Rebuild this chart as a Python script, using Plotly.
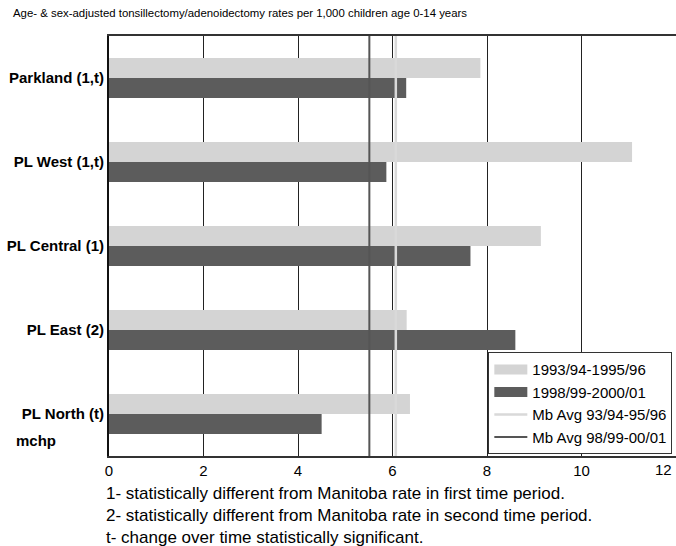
import plotly.graph_objects as go

categories = ["Parkland (1,t)", "PL West (1,t)", "PL Central (1)", "PL East (2)", "PL North (t)"]
rates_9396 = [7.86, 11.07, 9.14, 6.30, 6.37]
rates_9801 = [6.29, 5.87, 7.65, 8.60, 4.50]
mb_avg_9396 = 6.07
mb_avg_9801 = 5.51
series_names = ["1993/94-1995/96", "1998/99-2000/01", "Mb Avg 93/94-95/96", "Mb Avg 98/99-00/01"]
x_ticks = [0, 2, 4, 6, 8, 10, 12]
title_text = "Age- & sex-adjusted tonsillectomy/adenoidectomy rates per 1,000 children age 0-14 years"
footnotes = [
    "1- statistically different from Manitoba rate in first time period.",
    "2- statistically different from Manitoba rate in second time period.",
    "t- change over time statistically significant.",
]

FONT = "Arial, Liberation Sans, sans-serif"
LIGHT = "#d4d4d4"
DARK = "#5c5c5c"
MB_LIGHT = "#d9d9d9"
MB_DARK = "#555555"

fig = go.Figure()
fig.add_trace(go.Bar(y=categories, x=rates_9396, orientation="h", name=series_names[0],
                     marker=dict(color=LIGHT, line=dict(width=0)), showlegend=False))
fig.add_trace(go.Bar(y=categories, x=rates_9801, orientation="h", name=series_names[1],
                     marker=dict(color=DARK, line=dict(width=0)), showlegend=False))
# legend entries for the bar series (wide swatches)
fig.add_trace(go.Scatter(x=[None], y=[None], mode="lines", name=series_names[0],
                         line=dict(color=LIGHT, width=11), legendgroup="a"))
fig.add_trace(go.Scatter(x=[None], y=[None], mode="lines", name=series_names[1],
                         line=dict(color=DARK, width=11), legendgroup="b"))
fig.add_trace(go.Scatter(x=[mb_avg_9396, mb_avg_9396], y=[0, 1], yaxis="y2", mode="lines",
                         name=series_names[2], line=dict(color=MB_LIGHT, width=2.5), legendgroup="c"))
fig.add_trace(go.Scatter(x=[mb_avg_9801, mb_avg_9801], y=[0, 1], yaxis="y2", mode="lines",
                         name=series_names[3], line=dict(color=MB_DARK, width=2), legendgroup="d"))

annotations = [
    dict(text=title_text, xref="paper", yref="paper", x=-0.1737, y=1.0548,
         xanchor="left", yanchor="middle", showarrow=False, font=dict(size=11.4, color="black", family=FONT)),
    dict(text="<b>mchp</b>", xref="paper", yref="paper", x=-0.1667, y=0.038,
         xanchor="left", yanchor="middle", showarrow=False, font=dict(size=15, color="black", family=FONT)),
    # last tick label sits right-aligned at the chart edge
    dict(text=str(x_ticks[-1]), xref="x", yref="paper", x=x_ticks[-1], y=-0.033,
         xanchor="right", yanchor="middle", xshift=-2, showarrow=False,
         font=dict(size=15, color="black", family=FONT)),
]
for i, t in enumerate(footnotes):
    annotations.append(dict(text=t, xref="paper", yref="paper", x=-0.008, y=-0.09 - 0.0524 * i,
                            xanchor="left", yanchor="middle", showarrow=False,
                            font=dict(size=17, color="black", family=FONT)))

fig.update_layout(
    width=676, height=546,
    margin=dict(l=109, r=0, t=36, b=90),
    paper_bgcolor="white", plot_bgcolor="white",
    barmode="group", bargap=0.524, bargroupgap=0,
    font=dict(family=FONT, color="black"),
    showlegend=True,
    legend=dict(x=0.669, y=0.004, xanchor="left", yanchor="bottom",
                bgcolor="white", bordercolor="#333333", borderwidth=1,
                font=dict(size=15, family=FONT, color="black"),
                traceorder="normal", tracegroupgap=2, itemwidth=33),
    xaxis=dict(range=[0, 12], tickvals=x_ticks[:-1], showgrid=True, gridcolor="#222222", gridwidth=1,
               showline=True, linecolor="#333333", linewidth=2, mirror=True, ticks="",
               zeroline=False, ticklabeloverflow="allow", automargin=False,
               tickfont=dict(size=15, color="black", family=FONT)),
    yaxis=dict(autorange="reversed", showline=True, linecolor="#111111", linewidth=2, mirror=True,
               ticks="", showgrid=False, automargin=False,
               tickfont=dict(size=15, color="black", family=FONT),
               tickprefix="<b>", ticksuffix="</b>"),
    yaxis2=dict(overlaying="y", range=[0, 1], visible=False, fixedrange=True),
    annotations=annotations,
)

fig.write_html("out.html", config={"displayModeBar": False},
               post_script="document.body.style.margin='0';document.body.style.overflow='hidden';")
